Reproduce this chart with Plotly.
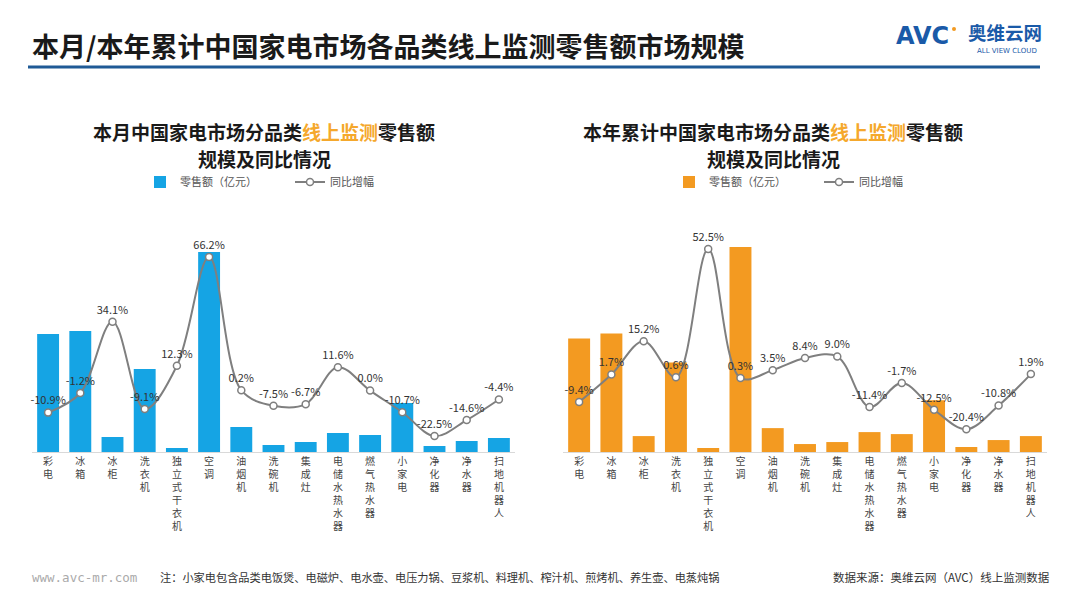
import plotly.graph_objects as go

categories = ["彩电", "冰箱", "冰柜", "洗衣机", "独立式干衣机", "空调", "油烟机", "洗碗机",
              "集成灶", "电储水热水器", "燃气热水器", "小家电", "净化器", "净水器", "扫地机器人"]
month_sales = [118, 121, 15, 83, 4, 200, 25, 7, 10, 19, 17, 49, 6, 11, 14]
month_yoy = [-10.9, -1.2, 34.1, -9.1, 12.3, 66.2, 0.2, -7.5, -6.7, 11.6, 0.0, -10.7, -22.5, -14.6, -4.4]
ytd_sales = [114, 119, 16, 90, 4, 206, 24, 8, 10, 20, 18, 52, 5, 12, 16]
ytd_yoy = [-9.4, 1.7, 15.2, 0.6, 52.5, 0.3, 3.5, 8.4, 9.0, -11.4, -1.7, -12.5, -20.4, -10.8, 1.9]

W, H = 1080, 608
def px(x):
    return x / W
def py(y):
    return 1 - y / H

FONT = "Noto Sans CJK SC"
BLUE = "#15a4e4"
ORANGE = "#f39a21"
GREY = "#7f7f7f"
HIGHLIGHT = "#f5a82c"
LOGO = "#1a5aa8"

vertical = ["<br>".join(list(c)) for c in categories]

fig = go.Figure()

def add_pair(bars, yoy, color, xa, ya, ya2, legend):
    fig.add_trace(go.Bar(
        x=categories, y=bars, name="零售额（亿元）", marker=dict(color=color, line=dict(width=0)),
        xaxis=xa, yaxis=ya, legend=legend, hoverinfo="x+y"))
    fig.add_trace(go.Scatter(
        x=categories, y=yoy, name="同比增幅", mode="lines+markers+text",
        line=dict(color=GREY, width=2, shape="spline", smoothing=1.0),
        marker=dict(size=7, color="white", line=dict(color=GREY, width=1.5)),
        text=[f"{v:.1f}%" for v in yoy], textposition="top center",
        textfont=dict(family=FONT, size=11, color="#333333"),
        cliponaxis=False, xaxis=xa, yaxis=ya2, legend=legend))

add_pair(month_sales, month_yoy, BLUE, "x", "y", "y2", "legend")
add_pair(ytd_sales, ytd_yoy, ORANGE, "x2", "y3", "y4", "legend2")

ydom = [py(452), py(245)]
xcommon = dict(type="category", range=[-0.5, len(categories) - 0.5],
               showline=True, linecolor="#d9d9d9", linewidth=1, automargin=False,
               ticks="", showgrid=False, zeroline=False, tickvals=categories, ticktext=vertical,
               tickfont=dict(family=FONT, size=10, color="#444444"), fixedrange=True)
legcommon = dict(orientation="h", y=py(182), xanchor="left", yanchor="middle", entrywidth=105,
                 font=dict(family=FONT, size=11, color="#555555"), bgcolor="rgba(0,0,0,0)")

fig.update_layout(
    width=W, height=H, autosize=False,
    template="none",
    margin=dict(l=0, r=0, t=0, b=0, pad=0, autoexpand=False),
    paper_bgcolor="white", plot_bgcolor="rgba(0,0,0,0)",
    font=dict(family=FONT),
    bargap=0.32,
    xaxis=dict(domain=[px(32), px(515)], anchor="y", **xcommon),
    yaxis=dict(domain=ydom, range=[0, 207], visible=False, automargin=False),
    yaxis2=dict(overlaying="y", range=[-30.4, 72.1], visible=False, anchor="x", automargin=False),
    xaxis2=dict(domain=[px(563), px(1047)], anchor="y3", **xcommon),
    yaxis3=dict(domain=ydom, range=[0, 208], visible=False, anchor="x2", automargin=False),
    yaxis4=dict(overlaying="y3", range=[-29.6, 54.1], visible=False, anchor="x2", automargin=False),
    legend=dict(x=px(140), **legcommon),
    legend2=dict(x=px(669), **legcommon),
    showlegend=True,
)

fig.add_shape(type="line", xref="paper", yref="paper", x0=px(28), x1=px(1040),
              y0=py(67), y1=py(67), line=dict(color="#1f5a96", width=3))
# orange dot of the logo
fig.add_shape(type="circle", xref="paper", yref="paper", x0=px(952), x1=px(956),
              y0=py(31), y1=py(27), line=dict(width=0), fillcolor="#f39a21")

ann = []
ann.append(dict(x=px(30), y=py(45), xanchor="left", yanchor="middle",
                text="<b>本月/本年累计中国家电市场各品类线上监测零售额市场规模</b>",
                font=dict(family=FONT, size=27, color="#1a1a1a")))
for cx, head in [(264, "本月中国家电市场分品类"), (773, "本年累计中国家电市场分品类")]:
    ann.append(dict(x=px(cx), y=py(131.5), xanchor="center", yanchor="middle",
                    text=f"<b>{head}<span style='color:{HIGHLIGHT}'>线上监测</span>零售额</b>",
                    font=dict(family=FONT, size=19, color="#1a1a1a")))
    ann.append(dict(x=px(cx), y=py(158.5), xanchor="center", yanchor="middle",
                    text="<b>规模及同比情况</b>",
                    font=dict(family=FONT, size=19, color="#1a1a1a")))
# logo
ann.append(dict(x=px(922), y=py(36), xanchor="center", yanchor="middle",
                text="<b>AVC</b>", font=dict(family="DejaVu Sans", size=24, color=LOGO)))
ann.append(dict(x=px(1005), y=py(32.5), xanchor="center", yanchor="middle",
                text="<b>奥维云网</b>", font=dict(family=FONT, size=18.5, color=LOGO)))
ann.append(dict(x=px(1007), y=py(51.5), xanchor="center", yanchor="middle",
                text="ALL VIEW CLOUD", font=dict(family="DejaVu Sans", size=7, color=LOGO)))
# footer
ann.append(dict(x=px(30), y=py(577), xanchor="left", yanchor="middle",
                text="www.avc-mr.com", font=dict(family="DejaVu Sans Mono", size=12.5, color="#aaaaaa")))
ann.append(dict(x=px(158), y=py(577), xanchor="left", yanchor="middle",
                text="注：小家电包含品类电饭煲、电磁炉、电水壶、电压力锅、豆浆机、料理机、榨汁机、煎烤机、养生壶、电蒸炖锅",
                font=dict(family=FONT, size=11.2, color="#333333")))
ann.append(dict(x=px(1052), y=py(577), xanchor="right", yanchor="middle",
                text="数据来源：奥维云网（AVC）线上监测数据",
                font=dict(family=FONT, size=11.5, color="#333333")))
for a in ann:
    a.update(xref="paper", yref="paper", showarrow=False)
fig.update_layout(annotations=ann)

fig.write_html("out.html", config={"displayModeBar": False},
               post_script="document.body.style.margin='0';document.body.style.overflow='hidden';")
